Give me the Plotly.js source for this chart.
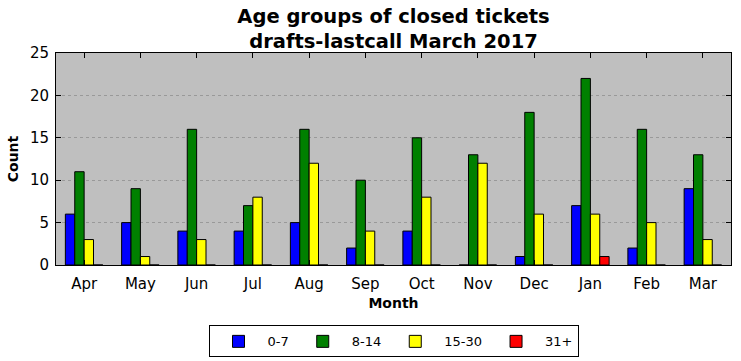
<!DOCTYPE html>
<html><head><meta charset="utf-8">
<script src="https://cdn.plot.ly/plotly-3.0.1.min.js"></script>
<style>body{margin:0;background:#fff}#c{width:741px;height:361px}</style>
</head><body><div id="c"></div>
<script>
const months = ["Apr","May","Jun","Jul","Aug","Sep","Oct","Nov","Dec","Jan","Feb","Mar"];
const age0_7   = [6,5,4,4,5,2,4,0,1,7,2,9];
const age8_14  = [11,9,16,7,16,10,15,13,18,22,16,13];
const age15_30 = [3,1,3,8,12,4,8,12,6,6,5,3];
const age31p   = [0,0,0,0,0,0,0,0,0,1,0,0];
const seriesNames = ["0-7","8-14","15-30","31+"];
const colors = ["#0000ff","#008000","#ffff00","#ff0000"];
const data = [age0_7, age8_14, age15_30, age31p].map((v,i)=>({
  type:"bar", x:months, y:v, name:seriesNames[i],
  marker:{color:colors[i], line:{color:"#000", width:1}}
}));
const font = "DejaVu Sans, sans-serif";
const layout = {
  width:741, height:361,
  margin:{l:56, r:10, t:53, b:96, autoexpand:false},
  paper_bgcolor:"#fff", plot_bgcolor:"#bfbfbf",
  barmode:"group", bargap:1/3, bargroupgap:0,
  font:{family:font, color:"#000", size:15},
  title:{text:"<b>Age groups of closed tickets<br>drafts-lastcall March 2017</b>", x:0.5, xref:"paper", xanchor:"center",
    yref:"container", y:0.937, yanchor:"top", font:{size:19.5, family:font}},
  xaxis:{range:[-0.5,11.5], showline:true, mirror:"ticks", linecolor:"#000", linewidth:1,
    ticks:"inside", ticklen:5, tickcolor:"#000", showgrid:false, ticklabelstandoff:5,
    title:{text:"<b>Month</b>", font:{size:14, family:font}, standoff:6}},
  yaxis:{range:[0,25], dtick:5, showline:true, mirror:"ticks", linecolor:"#000", linewidth:1,
    ticks:"inside", ticklen:5, tickcolor:"#000", showgrid:true, gridcolor:"#999", griddash:"dot", gridwidth:1,
    ticklabelstandoff:3,
    zeroline:false, title:{text:"<b>Count</b>", font:{size:14, family:font}, standoff:8}},
  legend:{orientation:"h", x:0.5, xanchor:"center", y:-0.285, yanchor:"top",
    bordercolor:"#000", borderwidth:1, font:{size:13, family:font}, itemwidth:48}
};
Plotly.newPlot("c", data, layout, {displayModeBar:false, staticPlot:true});
</script></body></html>
